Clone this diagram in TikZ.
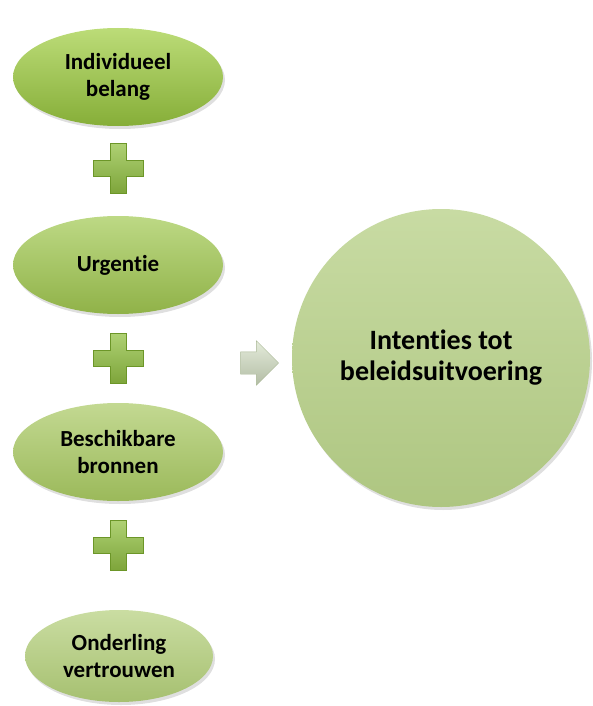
\documentclass[tikz,border=0pt]{standalone}
\usepackage{fontspec}
\setmainfont{Carlito}[Ligatures=NoCommon]
\usetikzlibrary{shapes.geometric,shapes.arrows,shadows}

\definecolor{grA}{HTML}{BCDC78}
\definecolor{grAd}{HTML}{86AE38}
\definecolor{grB}{HTML}{BDD985}
\definecolor{grBd}{HTML}{90B248}
\definecolor{grC}{HTML}{C3D992}
\definecolor{grCd}{HTML}{9BB95A}
\definecolor{grD}{HTML}{CADDA2}
\definecolor{grDd}{HTML}{A6C070}
\definecolor{circTop}{HTML}{C8DBA3}
\definecolor{circBot}{HTML}{AEC681}
\definecolor{plusFill}{HTML}{94C245}
\definecolor{plusEdge}{HTML}{6C9628}
\definecolor{arrFill}{HTML}{D2DEC2}
\definecolor{arrEdge}{HTML}{A8B794}

\tikzset{
    factor/.style={ellipse, minimum width=210pt, minimum height=98pt, inner sep=0pt,
        align=center, font=\bfseries\fontsize{23}{27}\selectfont,
        drop shadow={opacity=0.25, shadow xshift=2pt, shadow yshift=-3pt}},
    result/.style={circle, minimum size=298pt, inner sep=0pt, align=center,
        top color=circTop, bottom color=circBot,
        font=\bfseries\fontsize{28}{31}\selectfont,
        drop shadow={opacity=0.25, shadow xshift=2pt, shadow yshift=-3pt}},
    towards/.style={single arrow, single arrow head extend=11pt, minimum height=38pt,
        minimum width=44pt, inner xsep=0pt, inner ysep=11pt,
        top color=arrFill!60!white, bottom color=arrFill!85!black, draw=arrEdge, thin},
    plussign/.pic={
        \filldraw[top color=plusFill!75!white, bottom color=plusFill!85!black, draw=plusEdge, thin]
            (-8,-25) -- (8,-25) -- (8,-8) -- (25,-8) -- (25,8) -- (8,8)
            -- (8,25) -- (-8,25) -- (-8,8) -- (-25,8) -- (-25,-8) -- (-8,-8) -- cycle;
    }
}

\begin{document}
\begin{tikzpicture}[x=1pt, y=-1pt]
\useasboundingbox (0,0) rectangle (592,706);

% left column
\node[factor, top color=grA, bottom color=grAd] (belang) at (118,77) {Individueel\\belang};
\node[factor, top color=grB, bottom color=grBd] (urgentie) at (118,265) {Urgentie};
\node[factor, top color=grC, bottom color=grCd] (bronnen) at (118,452) {Beschikbare\\bronnen};
\node[factor, top color=grD, bottom color=grDd, minimum width=188pt, minimum height=92pt]
    (vertrouwen) at (119,656) {Onderling\\vertrouwen};

\pic at (118,168) {plussign};
\pic at (118,358) {plussign};
\pic at (118,545) {plussign};

% outcome
\node[towards] (pijl) at (254,363) {};
\node[result] (intenties) at (441,358) {Intenties tot\\beleidsuitvoering};
\end{tikzpicture}
\end{document}
